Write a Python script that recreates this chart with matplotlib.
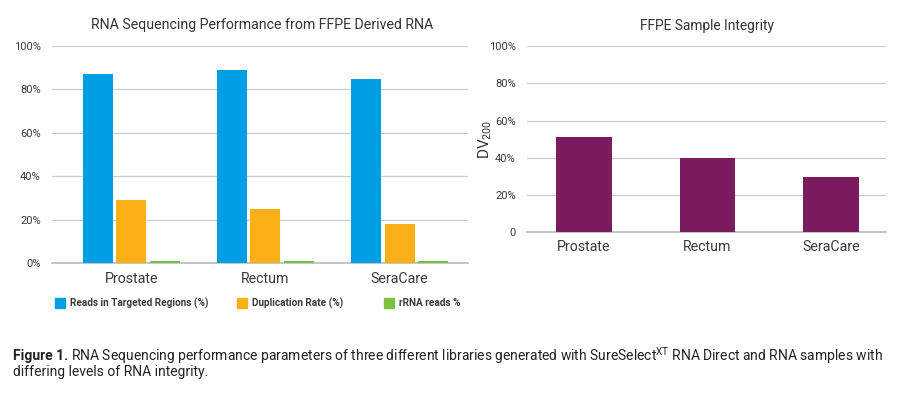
import matplotlib
matplotlib.use("Agg")
import matplotlib.pyplot as plt
import numpy as np
from matplotlib.patches import Rectangle

plt.rcParams['font.family'] = ['Roboto', 'DejaVu Sans']
plt.rcParams['mathtext.fontset'] = 'custom'
plt.rcParams['mathtext.rm'] = 'Roboto'
plt.rcParams['mathtext.it'] = 'Roboto'
plt.rcParams['mathtext.bf'] = 'Roboto:bold'

categories = ["Prostate", "Rectum", "SeraCare"]
series_names = ["Reads in Targeted Regions (%)", "Duplication Rate (%)", "rRNA reads %"]
reads_targeted = [87, 89, 85]
duplication_rate = [29, 25, 18]
rrna_reads = [1, 1, 1]
dv200 = [51, 40, 29.5]
yticks = [0, 20, 40, 60, 80, 100]
left_ticklabels = ["0%", "20%", "40%", "60%", "80%", "100%"]
right_ticklabels = ["0", "20%", "40%", "60%", "80%", "100%"]

colors = ["#009FE3", "#FBB116", "#7CC242"]
purple = "#7A1C5F"
grid_c = "#CCCCCC"
text_c = "#3A3A3A"

W, H = 907, 394
fig = plt.figure(figsize=(W/100, H/100), dpi=100)
fig.patch.set_facecolor("white")

def px_axes(x0, x1, ytop, ybot):
    return fig.add_axes([x0/W, (H-ybot)/H, (x1-x0)/W, (ybot-ytop)/H])

def style(ax, labels):
    ax.set_ylim(0, 100)
    ax.set_yticks(yticks)
    ax.set_yticklabels(labels, fontsize=8, color=text_c)
    ax.yaxis.grid(True, color=grid_c, linewidth=0.9)
    ax.set_axisbelow(True)
    for s in ["top", "right", "left"]:
        ax.spines[s].set_visible(False)
    ax.spines["bottom"].set_color("#BBBBBB")
    ax.spines["bottom"].set_linewidth(1.2)
    ax.spines["bottom"].set_zorder(1)
    ax.tick_params(axis="both", length=0)
    ax.tick_params(axis="y", pad=8)

# Left chart
ax1 = px_axes(52, 468, 46, 263.3)
x = np.arange(len(categories))
w = 0.224
off = 0.25
for i, (vals, c) in enumerate(zip([reads_targeted, duplication_rate, rrna_reads], colors)):
    ax1.bar(x + (i - 1) * off, vals, width=w, color=c, label=series_names[i], zorder=3)
ax1.set_xlim(-0.59, 2.51)
style(ax1, left_ticklabels)
ax1.set_xticks(x)
ax1.set_xticklabels(categories, fontsize=10.2, color=text_c)
ax1.tick_params(axis="x", pad=6)
ax1.set_title("RNA Sequencing Performance from FFPE Derived RNA", fontsize=10.2,
              color="#333333", pad=12, x=0.505)

# Legend (manual)
leg_y = 303
for (lx, tx), name, c in zip([(55, 70), (237, 252), (384, 399)], series_names, colors):
    fig.patches.append(Rectangle((lx/W, (H-leg_y-5)/H), 10/W, 10/H,
                                 transform=fig.transFigure, color=c, figure=fig))
    fig.text(tx/W, (H-leg_y)/H, name, fontsize=7.2, fontweight="bold",
             color=text_c, va="center", ha="left")

# Right chart
ax2 = px_axes(527, 886, 46.3, 232)
ax2.bar(x, dv200, width=0.45, color=purple, zorder=3)
ax2.set_xlim(-0.46, 2.445)
style(ax2, right_ticklabels)
ax2.set_xticks(x)
ax2.set_xticklabels(categories, fontsize=10.2, color=text_c)
ax2.tick_params(axis="x", pad=6)
ax2.set_title("FFPE Sample Integrity", fontsize=9.9, color="#333333", pad=12)
ax2.set_ylabel("DV$_{200}$", fontsize=11, color="#333333", labelpad=-4)

# Caption
cap_fs = 10
t_bold = fig.text(13/W, (H-356)/H, "Figure 1.", fontsize=cap_fs, fontweight="bold",
                  color="#222222", va="center", ha="left")
renderer = fig.canvas.get_renderer()
bb = t_bold.get_window_extent(renderer=renderer)
fig.text((bb.x1 + 3)/W, (H-356)/H,
         r"RNA Sequencing performance parameters of three different libraries generated with SureSelect$^{\mathrm{XT}}$ RNA Direct and RNA samples with",
         fontsize=cap_fs, color="#222222", va="center", ha="left")
fig.text(13/W, (H-372)/H, "differing levels of RNA integrity.",
         fontsize=cap_fs, color="#222222", va="center", ha="left")

fig.savefig("out.png", dpi=100)
